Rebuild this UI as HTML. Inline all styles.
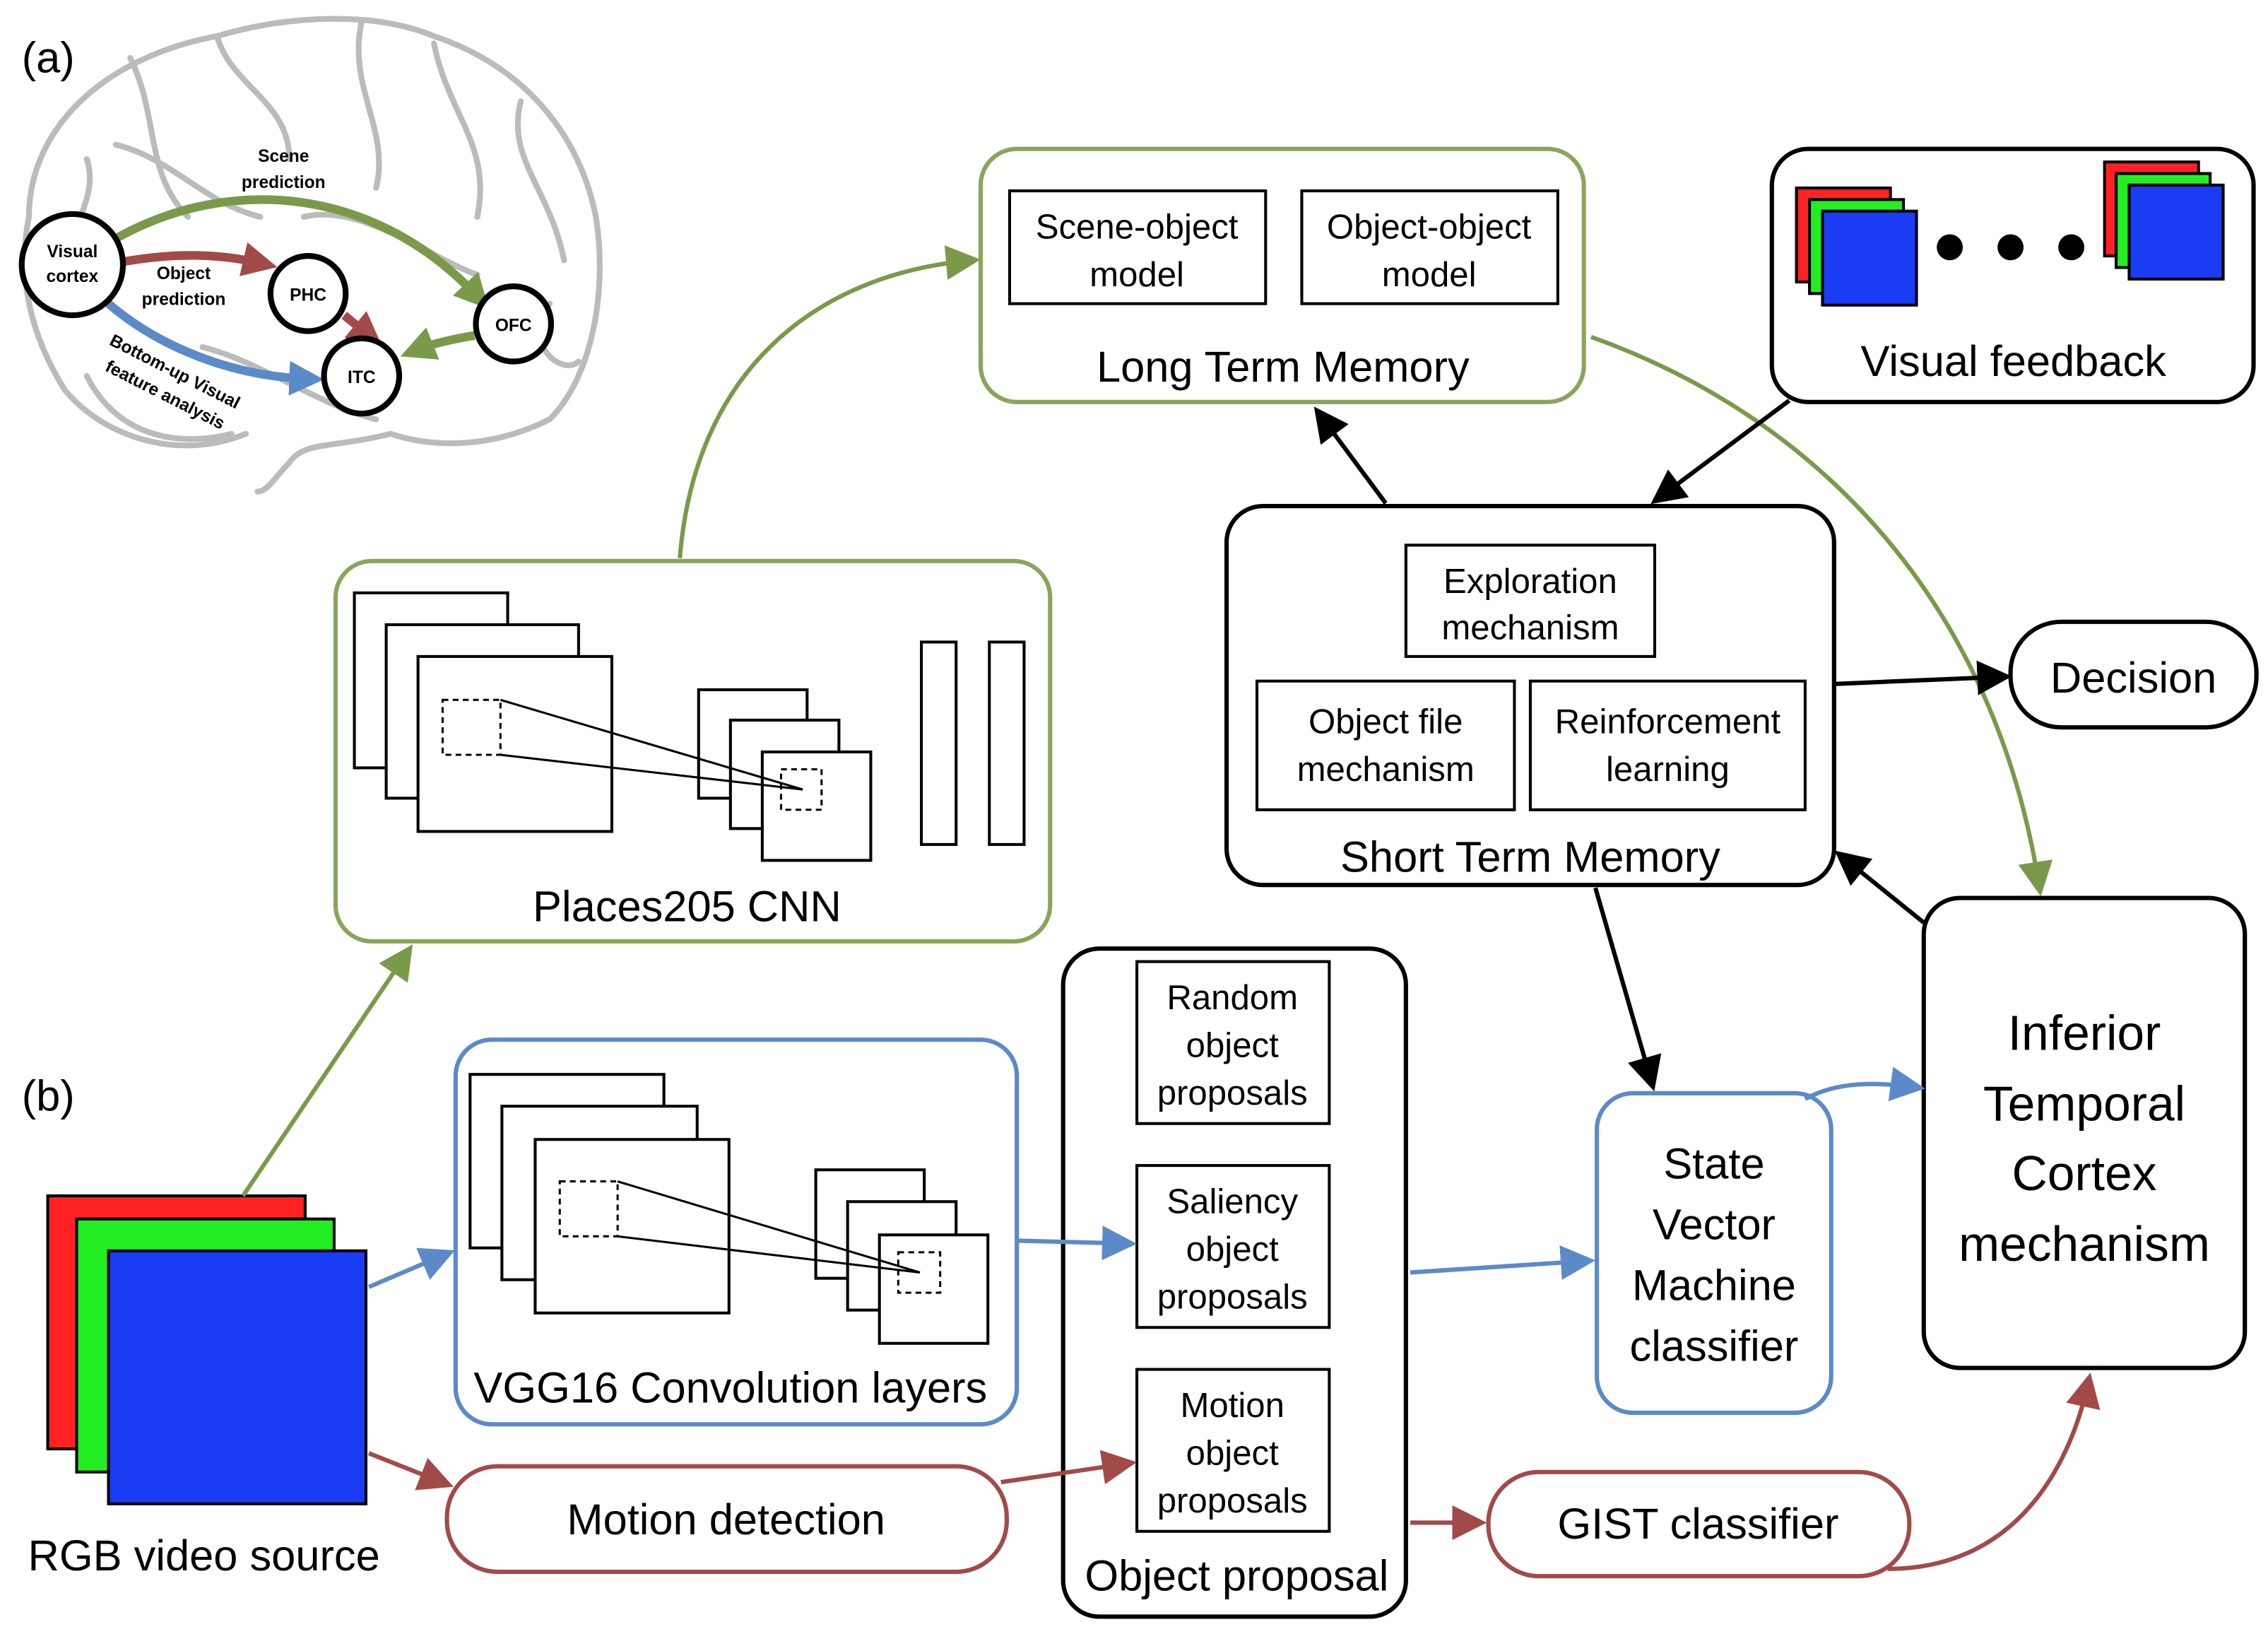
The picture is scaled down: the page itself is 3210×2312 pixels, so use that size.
<!DOCTYPE html>
<html><head><meta charset="utf-8"><style>
html,body{margin:0;padding:0;background:#fff;}
svg{display:block;}
text{font-family:"Liberation Sans",sans-serif;fill:#000;}
</style></head><body>
<svg width="3210" height="2312" viewBox="0 0 1568 1130" preserveAspectRatio="none" xmlns="http://www.w3.org/2000/svg">
<defs>
<marker id="ak" markerWidth="8" markerHeight="8" refX="6" refY="4" orient="auto" markerUnits="strokeWidth"><path d="M0,0 L8,4 L0,8 z" fill="#000"/></marker>
<marker id="ag" markerWidth="8" markerHeight="8" refX="6" refY="4" orient="auto" markerUnits="strokeWidth"><path d="M0,0 L8,4 L0,8 z" fill="#7a9a4a"/></marker>
<marker id="ab" markerWidth="8" markerHeight="8" refX="6" refY="4" orient="auto" markerUnits="strokeWidth"><path d="M0,0 L8,4 L0,8 z" fill="#5b8ac8"/></marker>
<marker id="ar" markerWidth="8" markerHeight="8" refX="6" refY="4" orient="auto" markerUnits="strokeWidth"><path d="M0,0 L8,4 L0,8 z" fill="#a24a48"/></marker>
<marker id="sg" markerWidth="4" markerHeight="4" refX="2" refY="2" orient="auto" markerUnits="strokeWidth"><path d="M0,0 L4,2 L0,4 z" fill="#7a9a4a"/></marker>
<marker id="sr" markerWidth="4" markerHeight="4" refX="2" refY="2" orient="auto" markerUnits="strokeWidth"><path d="M0,0 L4,2 L0,4 z" fill="#a24a48"/></marker>
<marker id="sb" markerWidth="4" markerHeight="4" refX="2" refY="2" orient="auto" markerUnits="strokeWidth"><path d="M0,0 L4,2 L0,4 z" fill="#5b8ac8"/></marker>
</defs>

<!-- brain -->
<g fill="none" stroke="#bbb" stroke-width="4" stroke-linecap="round">
<path d="M20,150 C20,90 70,40 150,25 C200,10 260,8 300,25 C360,45 400,90 412,150 C420,200 410,260 380,290 C340,310 300,310 270,300 C230,310 210,305 200,320 C190,330 185,340 178,340"/>
<path d="M20,150 C12,190 20,230 45,270 C70,300 120,320 170,300"/>
<path d="M60,260 C80,300 120,310 160,300"/>
<path d="M90,40 C110,80 100,120 130,150 M150,25 C160,60 200,70 200,110 M250,15 C240,60 270,90 260,130 M300,30 C310,80 340,100 330,150 M360,70 C350,110 380,130 390,180 M80,100 C120,110 140,140 180,150 M210,150 C250,140 300,180 330,190 M380,210 C360,240 390,260 400,250 M140,240 C180,250 220,280 260,290 M60,110 C70,140 40,160 60,180"/>
</g>
<path d="M80,165 C160,120 260,130 330,205" fill="none" stroke="#7a9a4a" stroke-width="6" marker-end="url(#sg)"/>
<path d="M85,181 C120,175 150,175 180,182" fill="none" stroke="#a24a48" stroke-width="6" marker-end="url(#sr)"/>
<path d="M238,218 L255,232" fill="none" stroke="#a24a48" stroke-width="6" marker-end="url(#sr)"/>
<path d="M328,232 C310,235 298,238 288,242" fill="none" stroke="#7a9a4a" stroke-width="6" marker-end="url(#sg)"/>
<path d="M75,210 C110,240 160,260 212,262" fill="none" stroke="#5b8ac8" stroke-width="6" marker-end="url(#sb)"/>
<g fill="#fff" stroke="#000" stroke-width="4">
<circle cx="50" cy="183" r="35"/><circle cx="213" cy="203" r="26"/><circle cx="250" cy="260" r="26"/><circle cx="355" cy="224" r="26"/>
</g>
<g font-size="12" font-weight="bold" text-anchor="middle">
<text x="50" y="178">Visual</text><text x="50" y="195">cortex</text>
<text x="213" y="208">PHC</text><text x="250" y="265">ITC</text><text x="355" y="229">OFC</text>
<text x="196" y="112">Scene</text><text x="196" y="130">prediction</text>
<text x="127" y="193">Object</text><text x="127" y="211">prediction</text>
<text transform="translate(75,238) rotate(27)" text-anchor="start">Bottom-up Visual</text>
<text transform="translate(72,256) rotate(27)" text-anchor="start">feature analysis</text>
</g>
<text x="15" y="50" font-size="30">(a)</text>
<text x="15" y="768" font-size="30">(b)</text>

<!-- LTM -->
<rect x="678" y="103" width="417" height="175" rx="25" fill="none" stroke="#8aa55a" stroke-width="3"/>
<rect x="698" y="132" width="177" height="78" fill="none" stroke="#000" stroke-width="2"/>
<rect x="900" y="132" width="177" height="78" fill="none" stroke="#000" stroke-width="2"/>
<g font-size="24" text-anchor="middle">
<text x="786" y="165">Scene-object</text><text x="786" y="198">model</text>
<text x="988" y="165">Object-object</text><text x="988" y="198">model</text>
</g>
<text x="887" y="264" font-size="30" text-anchor="middle">Long Term Memory</text>

<!-- Visual feedback -->
<rect x="1225" y="103" width="333" height="175" rx="25" fill="none" stroke="#000" stroke-width="3"/>
<g stroke="#000" stroke-width="2">
<rect x="1242" y="130" width="65" height="65" fill="#f22"/><rect x="1251" y="138" width="65" height="65" fill="#2e2"/><rect x="1260" y="146" width="65" height="65" fill="#1a3cf5"/>
<rect x="1455" y="112" width="65" height="65" fill="#f22"/><rect x="1463" y="120" width="65" height="65" fill="#2e2"/><rect x="1472" y="128" width="65" height="65" fill="#1a3cf5"/>
</g>
<circle cx="1348" cy="171" r="9"/><circle cx="1390" cy="171" r="9"/><circle cx="1432" cy="171" r="9"/>
<text x="1392" y="260" font-size="30" text-anchor="middle">Visual feedback</text>

<!-- STM -->
<rect x="848" y="350" width="420" height="262" rx="25" fill="none" stroke="#000" stroke-width="3"/>
<rect x="972" y="377" width="172" height="77" fill="none" stroke="#000" stroke-width="2"/>
<rect x="869" y="471" width="178" height="89" fill="none" stroke="#000" stroke-width="2"/>
<rect x="1058" y="471" width="190" height="89" fill="none" stroke="#000" stroke-width="2"/>
<g font-size="24" text-anchor="middle">
<text x="1058" y="410">Exploration</text><text x="1058" y="442">mechanism</text>
<text x="958" y="507">Object file</text><text x="958" y="540">mechanism</text>
<text x="1153" y="507">Reinforcement</text><text x="1153" y="540">learning</text>
</g>
<text x="1058" y="603" font-size="30" text-anchor="middle">Short Term Memory</text>

<!-- Decision -->
<rect x="1390" y="430" width="170" height="73" rx="35" fill="none" stroke="#000" stroke-width="3"/>
<text x="1475" y="479" font-size="30" text-anchor="middle">Decision</text>

<!-- Places -->
<rect x="232" y="388" width="494" height="263" rx="25" fill="none" stroke="#8aa55a" stroke-width="3"/>
<g fill="#fff" stroke="#000" stroke-width="2">
<rect x="245" y="410" width="106" height="121"/><rect x="267" y="432" width="133" height="120"/><rect x="289" y="454" width="134" height="121"/>
<rect x="483" y="477" width="75" height="75"/><rect x="505" y="498" width="75" height="75"/><rect x="527" y="520" width="75" height="75"/>
<rect x="637" y="444" width="24" height="140"/><rect x="684" y="444" width="24" height="140"/>
</g>
<g fill="none" stroke="#000" stroke-width="1.5">
<rect x="306" y="484" width="40" height="38" stroke-dasharray="4,3"/><rect x="540" y="532" width="28" height="28" stroke-dasharray="4,3"/>
<path d="M346,484 L555,546 M346,522 L555,546"/>
</g>
<text x="475" y="637" font-size="30" text-anchor="middle">Places205 CNN</text>

<!-- ITC -->
<rect x="1330" y="621" width="222" height="325" rx="25" fill="none" stroke="#000" stroke-width="3"/>
<g font-size="34" text-anchor="middle">
<text x="1441" y="726">Inferior</text><text x="1441" y="775">Temporal</text><text x="1441" y="823">Cortex</text><text x="1441" y="872">mechanism</text>
</g>

<!-- VGG -->
<rect x="315" y="719" width="388" height="266" rx="25" fill="none" stroke="#5b8ac8" stroke-width="3"/>
<g fill="#fff" stroke="#000" stroke-width="2">
<rect x="325" y="743" width="134" height="120"/><rect x="347" y="765" width="135" height="120"/><rect x="370" y="788" width="134" height="120"/>
<rect x="564" y="809" width="75" height="75"/><rect x="586" y="831" width="75" height="75"/><rect x="608" y="854" width="75" height="75"/>
</g>
<g fill="none" stroke="#000" stroke-width="1.5">
<rect x="387" y="817" width="40" height="38" stroke-dasharray="4,3"/><rect x="621" y="866" width="29" height="28" stroke-dasharray="4,3"/>
<path d="M427,817 L636,880 M427,855 L636,880"/>
</g>
<text x="505" y="970" font-size="30" text-anchor="middle">VGG16 Convolution layers</text>

<!-- Object proposal -->
<rect x="735" y="656" width="237" height="462" rx="25" fill="none" stroke="#000" stroke-width="3"/>
<rect x="786" y="665" width="133" height="112" fill="none" stroke="#000" stroke-width="2"/>
<rect x="786" y="806" width="133" height="112" fill="none" stroke="#000" stroke-width="2"/>
<rect x="786" y="947" width="133" height="112" fill="none" stroke="#000" stroke-width="2"/>
<g font-size="24" text-anchor="middle">
<text x="852" y="698">Random</text><text x="852" y="731">object</text><text x="852" y="764">proposals</text>
<text x="852" y="839">Saliency</text><text x="852" y="872">object</text><text x="852" y="905">proposals</text>
<text x="852" y="980">Motion</text><text x="852" y="1013">object</text><text x="852" y="1046">proposals</text>
</g>
<text x="855" y="1100" font-size="30" text-anchor="middle">Object proposal</text>

<!-- SVM -->
<rect x="1104" y="756" width="162" height="221" rx="25" fill="none" stroke="#5b8ac8" stroke-width="3"/>
<g font-size="30" text-anchor="middle">
<text x="1185" y="815">State</text><text x="1185" y="857">Vector</text><text x="1185" y="899">Machine</text><text x="1185" y="941">classifier</text>
</g>

<!-- Motion / GIST -->
<rect x="309" y="1014" width="387" height="73" rx="35" fill="none" stroke="#a24a48" stroke-width="3"/>
<text x="502" y="1061" font-size="30" text-anchor="middle">Motion detection</text>
<rect x="1029" y="1018" width="291" height="72" rx="35" fill="none" stroke="#a24a48" stroke-width="3"/>
<text x="1174" y="1064" font-size="30" text-anchor="middle">GIST classifier</text>

<!-- RGB -->
<g stroke="#000" stroke-width="2">
<rect x="33" y="827" width="178" height="175" fill="#f22"/><rect x="53" y="843" width="178" height="175" fill="#2e2"/><rect x="75" y="865" width="178" height="175" fill="#1a3cf5"/>
</g>
<text x="141" y="1086" font-size="30" text-anchor="middle">RGB video source</text>

<!-- connectors -->
<g fill="none" stroke-width="3">
<path d="M168,827 L282,658" stroke="#7a9a4a" marker-end="url(#ag)"/>
<path d="M470,386 C480,260 560,190 672,180" stroke="#7a9a4a" marker-end="url(#ag)"/>
<path d="M1100,233 C1260,290 1380,420 1410,614" stroke="#7a9a4a" marker-end="url(#ag)"/>
<path d="M958,348 L912,286" stroke="#000" marker-end="url(#ak)"/>
<path d="M1237,277 L1146,345" stroke="#000" marker-end="url(#ak)"/>
<path d="M1268,473 L1385,468" stroke="#000" marker-end="url(#ak)"/>
<path d="M1103,614 L1142,749" stroke="#000" marker-end="url(#ak)"/>
<path d="M1330,638 L1273,592" stroke="#000" marker-end="url(#ak)"/>
<path d="M255,890 L309,867" stroke="#5b8ac8" marker-end="url(#ab)"/>
<path d="M703,858 L780,860" stroke="#5b8ac8" marker-end="url(#ab)"/>
<path d="M975,880 L1097,872" stroke="#5b8ac8" marker-end="url(#ab)"/>
<path d="M1248,760 C1270,748 1295,748 1325,752" stroke="#5b8ac8" marker-end="url(#ab)"/>
<path d="M255,1005 L308,1026" stroke="#a24a48" marker-end="url(#ar)"/>
<path d="M692,1025 L780,1012" stroke="#a24a48" marker-end="url(#ar)"/>
<path d="M975,1053 L1022,1053" stroke="#a24a48" marker-end="url(#ar)"/>
<path d="M1305,1085 C1390,1085 1430,1020 1444,955" stroke="#a24a48" marker-end="url(#ar)"/>
</g>
</svg>
</body></html>
